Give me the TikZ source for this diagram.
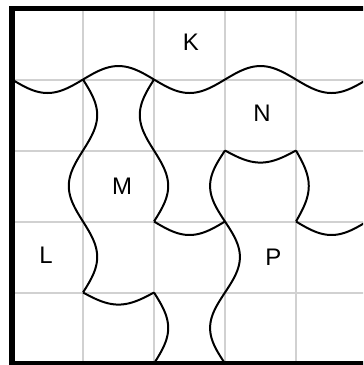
\documentclass[tikz,border=0pt]{standalone}
\usepackage{fontspec}
\setmainfont{Liberation Sans}
\begin{document}
\begin{tikzpicture}[x=1cm,y=1cm,
  gridline/.style={draw=black!18, line width=0.8pt},
  piece/.style={draw=black, line width=0.8pt, line join=round},
  frame/.style={draw=black, line width=2.1pt},
  lbl/.style={inner sep=0pt, font=\fontsize{9.6}{11}\selectfont}]
\clip (-0.169,-0.021) rectangle (4.944,5.12);
\draw[gridline] (0,0) grid (5,5);
% top wave
\draw[piece] plot[domain=0:5, samples=151, smooth] (\x, {4-0.19*sin(180*\x)});
% x=1 line
\draw[piece] plot[domain=4:1, samples=91, smooth] ({1-0.2*sin(180*\x)}, \x);
% x=2 line upper
\draw[piece] plot[domain=4:2, samples=61, smooth] ({2+0.2*sin(180*\x)}, \x);
% trough (2,2)-(3,2)
\draw[piece] plot[domain=2:3, samples=31, smooth] (\x, {2-0.19*sin(180*(\x-2))});
% N bottom (3,3)-(4,3)
\draw[piece] plot[domain=3:4, samples=31, smooth] (\x, {3-0.17*sin(180*(\x-3))});
% x=3 line
\draw[piece] plot[domain=3:0, samples=91, smooth] ({3-0.21*sin(180*\x)}, \x);
% x=4 short line
\draw[piece] plot[domain=3:2, samples=31, smooth] ({4+0.18*sin(180*(\x-2))}, \x);
% trough (4,2)-(5,2)
\draw[piece] plot[domain=4:5, samples=31, smooth] (\x, {2-0.19*sin(180*(\x-4))});
% trough (1,1)-(2,1)
\draw[piece] plot[domain=1:2, samples=31, smooth] (\x, {1-0.17*sin(180*(\x-1))});
% x=2 lower
\draw[piece] plot[domain=1:0, samples=31, smooth] ({2+0.2*sin(180*\x)}, \x);
% frame
\draw[frame] (0,0) rectangle (5,5);
% labels
\node[lbl] (K) at (2.52,4.53) {K};
\node[lbl] (N) at (3.52,3.52) {N};
\node[lbl] (M) at (1.55,2.5) {M};
\node[lbl] (L) at (0.48,1.52) {L};
\node[lbl] (P) at (3.68,1.5) {P};
\end{tikzpicture}
\end{document}
